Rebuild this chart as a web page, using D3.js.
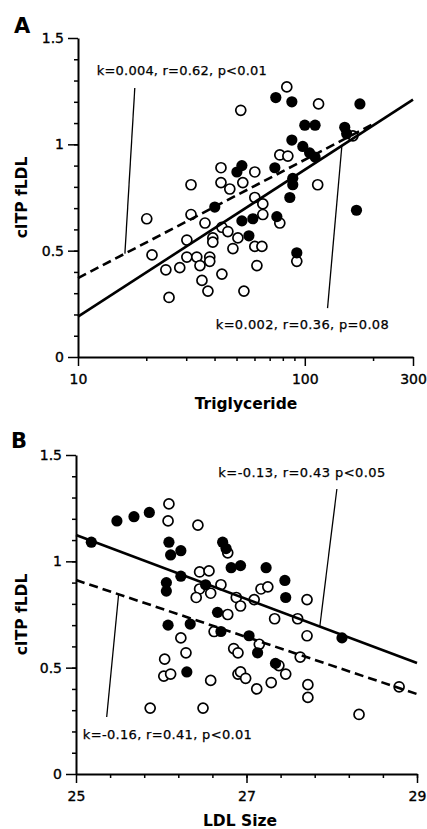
<!DOCTYPE html>
<html lang="en">
<head>
<meta charset="UTF-8">
<title>cITP fLDL vs Triglyceride and LDL Size</title>
<style>
    body { margin: 0; background: #fff; }
    svg text { font-family: "DejaVu Sans", "Liberation Sans", sans-serif; fill: #000; }
    .tick text { font-size: 14px; stroke: #000; stroke-width: 0.35px; }
    .axis path, .axis line { stroke: #000; }
    .axis path { stroke-width: 2px; }
    .axis line { stroke-width: 1.5px; }
    .title { font-weight: bold; font-size: 15.5px; }
    .panel { font-weight: bold; font-size: 21px; }
    .note { font-size: 13px; stroke: #000; stroke-width: 0.25px; }
</style>
</head>
<body>
<div id="chart"></div>
<script src="https://d3js.org/d3.v7.min.js"></script>
<script>
    // ---- Panel A: cITP fLDL vs triglyceride (log scale) ----
    const trigOpenX = [83.3, 52.2, 115, 42.7, 31.5, 42.7, 46.7, 53.3, 60.2, 20.1, 31.5, 36.3, 43.1, 45.8, 39.3, 30.2, 39.3, 50.7, 48.2, 21.2, 30.2, 33.4, 38.1, 38.1, 34.5, 24.4, 28.1, 43.1, 35.2, 37.4, 53.9, 25.2, 61.5, 77.6, 84.2, 163, 114, 60.2, 65.3, 65.3, 77.6, 60.2, 64.7, 92.2];
    const trigOpenY = [1.27, 1.16, 1.19, 0.89, 0.81, 0.82, 0.79, 0.82, 0.87, 0.65, 0.67, 0.63, 0.61, 0.59, 0.56, 0.55, 0.54, 0.56, 0.51, 0.48, 0.47, 0.47, 0.47, 0.45, 0.43, 0.41, 0.42, 0.39, 0.36, 0.31, 0.31, 0.28, 0.43, 0.95, 0.945, 1.04, 0.81, 0.75, 0.72, 0.67, 0.63, 0.52, 0.52, 0.45];
    const trigFilledX = [74.5, 87.7, 175, 100, 111, 150, 153, 87.7, 98, 105, 111, 73.8, 52.8, 50.2, 88.5, 85.9, 169, 40.1, 59, 75.3, 52.8, 56.7, 92.2, 88.5];
    const trigFilledY = [1.22, 1.20, 1.19, 1.09, 1.09, 1.08, 1.05, 1.02, 0.99, 0.96, 0.94, 0.89, 0.90, 0.87, 0.84, 0.75, 0.69, 0.705, 0.65, 0.66, 0.64, 0.57, 0.49, 0.81];
    const trigSolidX = [10, 300], trigSolidY = [0.19, 1.21];
    const trigDashX = [10, 200], trigDashY = [0.371, 1.095];
    const trigTicks = [10, 100, 300];
    const trigMinor = [20, 30, 40, 50, 60, 70, 80, 90, 200];

    // ---- Panel B: cITP fLDL vs LDL size ----
    const ldlOpenX = [26.09, 26.08, 26.43, 26.78, 26.45, 26.56, 26.45, 26.58, 26.41, 26.70, 26.88, 26.78, 26.62, 26.23, 26.29, 26.04, 26.03, 26.11, 26.58, 26.90, 26.85, 26.90, 25.87, 26.49, 27.17, 27.25, 27.09, 26.93, 27.71, 27.33, 27.60, 27.71, 27.15, 27.63, 27.38, 27.46, 27.29, 26.93, 26.99, 27.12, 27.72, 27.72, 28.79, 28.32];
    const ldlOpenY = [1.27, 1.19, 1.17, 1.04, 0.95, 0.955, 0.87, 0.85, 0.83, 0.89, 0.83, 0.75, 0.67, 0.64, 0.57, 0.54, 0.46, 0.47, 0.44, 0.47, 0.59, 0.57, 0.31, 0.31, 0.87, 0.88, 0.82, 0.79, 0.82, 0.73, 0.73, 0.65, 0.61, 0.55, 0.51, 0.47, 0.43, 0.48, 0.45, 0.40, 0.42, 0.36, 0.41, 0.28];
    const ldlFilledX = [25.18, 25.48, 25.68, 25.86, 26.09, 26.11, 26.23, 26.23, 26.06, 26.06, 26.72, 26.76, 26.82, 26.93, 26.52, 26.66, 26.08, 26.34, 26.70, 26.30, 27.23, 27.45, 27.46, 28.12, 27.03, 27.13, 27.34];
    const ldlFilledY = [1.09, 1.19, 1.21, 1.23, 1.09, 1.03, 1.05, 0.93, 0.90, 0.86, 1.09, 1.06, 0.97, 0.98, 0.89, 0.76, 0.70, 0.705, 0.67, 0.48, 0.97, 0.91, 0.83, 0.64, 0.65, 0.57, 0.52];
    const ldlSolidX = [25, 29], ldlSolidY = [1.124, 0.522];
    const ldlDashX = [25, 29], ldlDashY = [0.912, 0.376];
    const ldlTicks = [25, 27, 29];
    const ldlMinor = d3.range(25.4, 29, 0.4);

    const yTicks = [0, 0.5, 1, 1.5];
    const yMinor = d3.range(0.1, 1.5, 0.1);

    const svg = d3.select("#chart").append("svg")
        .attr("width", 427)
        .attr("height", 829);

    function zip(xs, ys) { return xs.map((x, i) => [x, ys[i]]); }

    function drawPanel(p) {
        const g = svg.append("g");
        const x = p.x, y = p.y;

        // minor ticks (no labels)
        g.append("g").attr("class", "axis")
            .attr("transform", `translate(${x.range()[0]},0)`)
            .call(d3.axisLeft(y).tickValues(yMinor).tickSize(4).tickFormat("").tickSizeOuter(0))
            .select(".domain").remove();
        g.append("g").attr("class", "axis")
            .attr("transform", `translate(0,${y.range()[0]})`)
            .call(d3.axisBottom(x).tickValues(p.minor).tickSize(4).tickFormat("").tickSizeOuter(0))
            .select(".domain").remove();

        // main axes
        g.append("g").attr("class", "axis")
            .attr("transform", `translate(${x.range()[0]},0)`)
            .call(d3.axisLeft(y).tickValues(yTicks).tickSize(10).tickPadding(4).tickSizeOuter(0)
                .tickFormat(d3.format("~g")));
        g.append("g").attr("class", "axis")
            .attr("transform", `translate(0,${y.range()[0]})`)
            .call(d3.axisBottom(x).tickValues(p.ticks).tickSize(9).tickPadding(8).tickSizeOuter(0)
                .tickFormat(d3.format("d")));

        // points
        g.selectAll(".open").data(zip(p.openX, p.openY)).enter().append("circle")
            .attr("cx", d => x(d[0])).attr("cy", d => y(d[1])).attr("r", 5)
            .attr("fill", "#fff").attr("stroke", "#000").attr("stroke-width", 1.7);
        g.selectAll(".filled").data(zip(p.filledX, p.filledY)).enter().append("circle")
            .attr("cx", d => x(d[0])).attr("cy", d => y(d[1])).attr("r", 5.6)
            .attr("fill", "#000");

        // regression lines
        const line = d3.line().x(d => x(d[0])).y(d => y(d[1]));
        g.append("path").datum(zip(p.solidX, p.solidY)).attr("d", line)
            .attr("fill", "none").attr("stroke", "#000").attr("stroke-width", 2.6);
        g.append("path").datum(zip(p.dashX, p.dashY)).attr("d", line)
            .attr("fill", "none").attr("stroke", "#000").attr("stroke-width", 2.6)
            .attr("stroke-dasharray", "9,5");

        // annotations with leader lines
        p.notes.forEach(n => {
            g.append("line")
                .attr("x1", x(n.from[0])).attr("y1", y(n.from[1]))
                .attr("x2", x(n.to[0])).attr("y2", y(n.to[1]))
                .attr("stroke", "#000").attr("stroke-width", 1.3);
            g.append("text").attr("class", "note")
                .attr("x", x(n.at[0])).attr("y", y(n.at[1]))
                .attr("textLength", n.len).attr("lengthAdjust", "spacing")
                .text(n.text);
        });

        // titles
        g.append("text").attr("class", "panel").attr("x", p.letterPos[0]).attr("y", p.letterPos[1]).text(p.letter);
        g.append("text").attr("class", "title")
            .attr("transform", `translate(27,${(y.range()[0] + y.range()[1]) / 2}) rotate(-90)`)
            .attr("text-anchor", "middle").text("cITP fLDL");
        g.append("text").attr("class", "title")
            .attr("x", p.titleX).attr("y", y.range()[0] + 52)
            .attr("text-anchor", "middle").text(p.xTitle);
    }

    // Panel A
    const xA = d3.scaleLog().domain([10, 300]).range([78, 413]);
    const yA = d3.scaleLinear().domain([0, 1.5]).range([357, 38]);
    const onDashA = v => trigDashY[0] + (trigDashY[1] - trigDashY[0]) * Math.log(v / 10) / Math.log(trigDashX[1] / 10);
    const onSolidA = v => trigSolidY[0] + (trigSolidY[1] - trigSolidY[0]) * Math.log(v / 10) / Math.log(trigSolidX[1] / 10);
    drawPanel({
        x: xA, y: yA, ticks: trigTicks, minor: trigMinor,
        openX: trigOpenX, openY: trigOpenY, filledX: trigFilledX, filledY: trigFilledY,
        solidX: trigSolidX, solidY: trigSolidY, dashX: trigDashX, dashY: trigDashY,
        notes: [
            { text: "k=0.004, r=0.62, p<0.01", at: [12.1, 1.326], len: 170, from: [17.8, 1.265], to: [16.1, onDashA(16.1)] },
            { text: "k=0.002, r=0.36, p=0.08", at: [40.5, 0.132], len: 173, from: [126, 0.23], to: [145.7, onSolidA(145.7)] }
        ],
        letter: "A", letterPos: [14, 33], xTitle: "Triglyceride", titleX: 246
    });

    // Panel B
    const xB = d3.scaleLinear().domain([25, 29]).range([76, 417]);
    const yB = d3.scaleLinear().domain([0, 1.5]).range([774, 455]);
    const onLine = (xs, ys) => v => ys[0] + (ys[1] - ys[0]) * (v - xs[0]) / (xs[1] - xs[0]);
    drawPanel({
        x: xB, y: yB, ticks: ldlTicks, minor: ldlMinor,
        openX: ldlOpenX, openY: ldlOpenY, filledX: ldlFilledX, filledY: ldlFilledY,
        solidX: ldlSolidX, solidY: ldlSolidY, dashX: ldlDashX, dashY: ldlDashY,
        notes: [
            { text: "k=-0.13, r=0.43  p<0.05", at: [26.67, 1.395], len: 167, from: [28.06, 1.34], to: [27.86, onLine(ldlSolidX, ldlSolidY)(27.86)] },
            { text: "k=-0.16, r=0.41, p<0.01", at: [25.08, 0.165], len: 169, from: [25.36, 0.268], to: [25.5, onLine(ldlDashX, ldlDashY)(25.5)] }
        ],
        letter: "B", letterPos: [11, 448], xTitle: "LDL Size", titleX: 240
    });
</script>
</body>
</html>
